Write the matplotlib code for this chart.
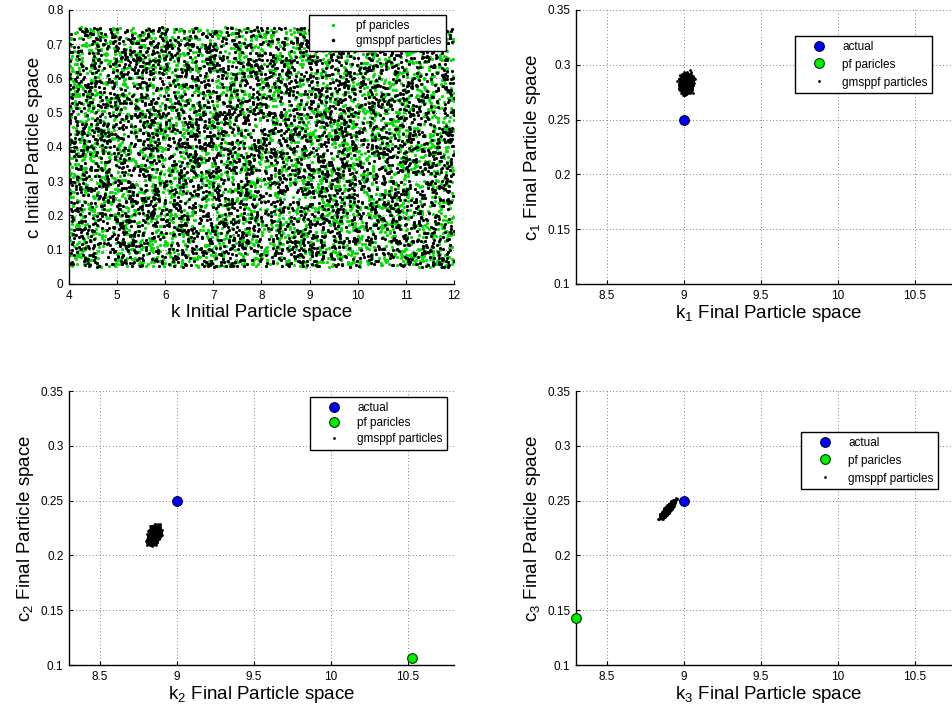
import numpy as np
import matplotlib
matplotlib.use("Agg")
import matplotlib.pyplot as plt

plt.rcParams['font.family'] = ['Liberation Sans', 'DejaVu Sans']
plt.rcParams['mathtext.fontset'] = 'custom'
plt.rcParams['mathtext.rm'] = 'Liberation Sans'
plt.rcParams['mathtext.it'] = 'Liberation Sans'

# --- datos ---
# espacio inicial: particulas uniformes dentro de estos limites
k_inicial = [4.0, 12.0]
c_inicial = [0.05, 0.75]
n_particulas = 4500

# valor real de los parametros
k_real = [9.0, 9.0, 9.0]
c_real = [0.25, 0.25, 0.25]

# estimacion pf (una sola particula final en cada panel)
k_pf = [9.015, 10.53, 8.30]
c_pf = [0.283, 0.106, 0.143]

# nube gmsppf final: centro, desviacion y correlacion
k_centro = [9.015, 8.853, 8.895]
c_centro = [0.283, 0.219, 0.242]
k_desv = [0.015, 0.014, 0.016]
c_desv = [0.0031, 0.0030, 0.0027]
correl = [0.1, 0.3, 0.88]
n_nube = 5000

# nubes de particulas (muestreo con semilla fija, solo para la textura)
rng = np.random.default_rng(3)
pf_k0 = rng.uniform(k_inicial[0], k_inicial[1], n_particulas)
pf_c0 = rng.uniform(c_inicial[0], c_inicial[1], n_particulas)
gm_k0 = rng.uniform(k_inicial[0], k_inicial[1], n_particulas)
gm_c0 = rng.uniform(c_inicial[0], c_inicial[1], n_particulas)

W, H = 953, 711
fig = plt.figure(figsize=(W / 100, H / 100), dpi=100)


def caja(izq, arriba, ancho, alto):
    return [izq / W, 1 - (arriba + alto) / H, ancho / W, alto / H]


def estilo(ax):
    ax.grid(True, linestyle=(0, (1, 3)), color='#555555', linewidth=0.6)
    ax.set_axisbelow(True)
    for lado in ['top', 'right']:
        ax.spines[lado].set_visible(False)
    for lado in ['left', 'bottom']:
        ax.spines[lado].set_linewidth(1.0)
    ax.tick_params(direction='in', length=3, labelsize=8.5, pad=4)


def leyenda(ax, x, y, espacio):
    leg = ax.legend(loc='upper left', bbox_to_anchor=(x / W, 1 - y / H),
                    bbox_transform=fig.transFigure, borderaxespad=0,
                    fancybox=False, framealpha=1, edgecolor='black',
                    fontsize=8.5, handletextpad=0.4, borderpad=0.4,
                    labelspacing=espacio, handlelength=3.2)
    leg.get_frame().set_linewidth(1.0)
    return leg


# panel inicial
ax0 = fig.add_axes(caja(69, 10, 385, 274))
ax0.plot(pf_k0, pf_c0, 'o', color='#00dd00', ms=2.3, mew=0, label='pf paricles')
ax0.plot(gm_k0, gm_c0, 'o', color='black', ms=2.3, mew=0, label='gmsppf particles')
ax0.set_xlim(4, 12)
ax0.set_ylim(0, 0.8)
ax0.set_xticks(np.arange(4, 13, 1))
ax0.set_yticks(np.arange(0, 0.81, 0.1))
ax0.set_yticklabels(['0', '0.1', '0.2', '0.3', '0.4', '0.5', '0.6', '0.7', '0.8'])
ax0.set_xlabel('k Initial Particle space', fontsize=13.5, labelpad=2)
ax0.set_ylabel('c Initial Particle space', fontsize=13.5, labelpad=3)
estilo(ax0)
leg0 = leyenda(ax0, 309, 15, 0.25)
for h in leg0.legend_handles:
    h.set_markersize(2.5)

# paneles finales
posiciones = [(576, 10), (69, 391), (576, 391)]
cajas_leyenda = [(795, 36), (310, 397), (801, 432)]
espacios = [0.5, 0.3, 0.5]

for i in range(3):
    x0, y0 = posiciones[i]
    ax = fig.add_axes(caja(x0, y0, 385, 274))
    cov = [[k_desv[i] ** 2, correl[i] * k_desv[i] * c_desv[i]],
           [correl[i] * k_desv[i] * c_desv[i], c_desv[i] ** 2]]
    nube = rng.multivariate_normal([k_centro[i], c_centro[i]], cov, n_nube)
    ax.plot(k_real[i], c_real[i], 'o', color='#0000ff', mec='#000033', ms=7,
            mew=0.8, label='actual', clip_on=False, zorder=3)
    ax.plot(k_pf[i], c_pf[i], 'o', color='#00ee00', mec='#003300', ms=7,
            mew=0.8, label='pf paricles', clip_on=False, zorder=3)
    ax.plot(nube[:, 0], nube[:, 1], 'o', color='black', ms=2, mew=0,
            label='gmsppf particles', zorder=4)
    ax.set_xlim(8.3, 10.8)
    ax.set_ylim(0.1, 0.35)
    ax.set_xticks([8.5, 9, 9.5, 10, 10.5])
    ax.set_xticklabels(['8.5', '9', '9.5', '10', '10.5'])
    ax.set_yticks([0.1, 0.15, 0.2, 0.25, 0.3, 0.35])
    ax.set_yticklabels(['0.1', '0.15', '0.2', '0.25', '0.3', '0.35'])
    n = i + 1
    ax.set_xlabel('k$_{%d}$ Final Particle space' % n, fontsize=13.5, labelpad=1)
    ax.set_ylabel('c$_{%d}$ Final Particle space' % n, fontsize=13.5, labelpad=3)
    estilo(ax)
    leyenda(ax, cajas_leyenda[i][0], cajas_leyenda[i][1], espacios[i])

fig.savefig('out.png', dpi=100)
